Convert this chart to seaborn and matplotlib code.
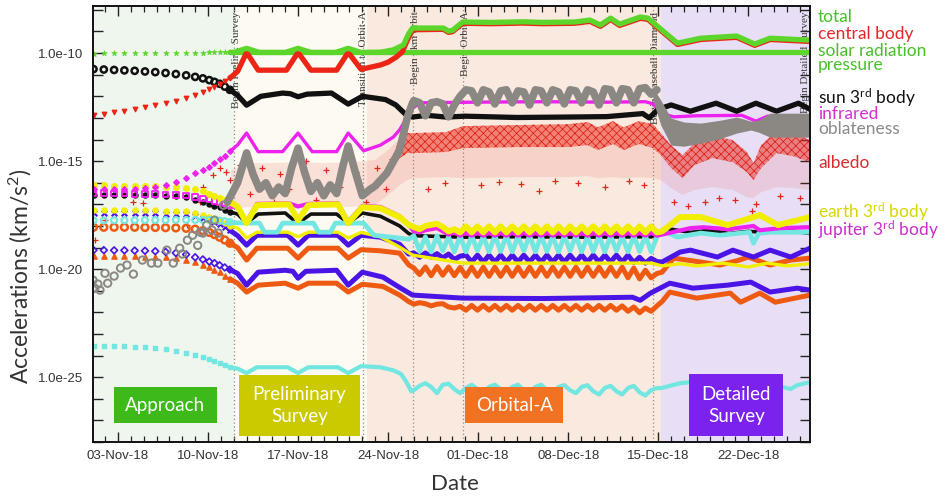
import numpy as np
import matplotlib
matplotlib.use("Agg")
import matplotlib.pyplot as plt
import seaborn as sns
from matplotlib.patches import Rectangle
from matplotlib.ticker import FixedLocator, FuncFormatter, NullLocator

# x = days since 01-Nov-2018 00:00, values = log10(acceleration [km/s^2])

TICK_DAYS = [2, 9, 16, 23, 30, 37, 44, 51]
TICK_LABELS = ["03-Nov-18", "10-Nov-18", "17-Nov-18", "24-Nov-18",
               "01-Dec-18", "08-Dec-18", "15-Dec-18", "22-Dec-18"]

# ---------------- approach phase (sparse markers) ----------------
APPROACH_DAYS = [0.1, 0.9, 1.7, 2.5, 3.3, 4.1, 4.9, 5.7, 6.5, 7.3, 8.0, 8.6, 9.1, 9.5, 9.9, 10.3, 10.7]
srp_app = [-10.02, -10.01, -10.00, -10.00, -9.99, -9.99, -9.99, -9.98, -9.98, -9.98, -9.98, -9.98, -9.97, -9.97, -9.97, -9.97, -9.97]
central_app = [-12.87, -12.80, -12.73, -12.66, -12.59, -12.51, -12.42, -12.31, -12.20, -12.06, -11.93, -11.80, -11.68, -11.57, -11.44, -11.30, -11.16]
sun_app = [-10.74, -10.76, -10.78, -10.80, -10.82, -10.85, -10.88, -10.92, -10.97, -11.03, -11.10, -11.17, -11.25, -11.33, -11.42, -11.55, -11.70]
ir_app = [-16.30, -16.30, -16.30, -16.29, -16.28, -16.25, -16.20, -16.10, -15.95, -15.79, -15.56, -15.40, -15.25, -15.10, -14.92, -14.75, -14.55]
e3_app = [-16.11, -16.12, -16.13, -16.14, -16.15, -16.16, -16.17, -16.18, -16.20, -16.24, -16.30, -16.40, -16.50, -16.60, -16.70, -16.80, -16.90]
j3_app = [-16.48, -16.48, -16.49, -16.50, -16.51, -16.52, -16.53, -16.55, -16.57, -16.60, -16.65, -16.72, -16.78, -16.84, -16.90, -16.96, -17.02]
blk2_app = [-16.57, -16.57, -16.57, -16.57, -16.58, -16.58, -16.59, -16.60, -16.62, -16.67, -16.78, -16.88, -16.98, -17.06, -17.14, -17.25, -17.35]
ty_app = [-17.27, -17.27, -17.27, -17.27, -17.27, -17.28, -17.28, -17.29, -17.30, -17.33, -17.40, -17.48, -17.57, -17.66, -17.76, -17.87, -17.98]
bu_app = [-17.41, -17.41, -17.41, -17.41, -17.41, -17.42, -17.42, -17.43, -17.44, -17.47, -17.55, -17.62, -17.70, -17.80, -17.92, -18.05, -18.20]
cy_app = [-17.75, -17.75, -17.74, -17.74, -17.74, -17.73, -17.73, -17.73, -17.72, -17.72, -17.72, -17.72, -17.72, -17.73, -17.75, -17.78, -17.82]
ou_app = [-18.06, -18.06, -18.06, -18.06, -18.06, -18.07, -18.07, -18.08, -18.09, -18.11, -18.15, -18.22, -18.30, -18.40, -18.52, -18.65, -18.80]
bl_app = [-19.12, -19.12, -19.13, -19.13, -19.14, -19.15, -19.17, -19.20, -19.25, -19.32, -19.45, -19.55, -19.65, -19.72, -19.82, -19.92, -20.02]
ol_app = [-19.40, -19.40, -19.40, -19.41, -19.41, -19.42, -19.43, -19.45, -19.50, -19.58, -19.68, -19.80, -19.92, -20.03, -20.15, -20.30, -20.45]
cl_app = [-23.56, -23.56, -23.56, -23.57, -23.58, -23.60, -23.63, -23.70, -23.78, -23.86, -23.96, -24.06, -24.16, -24.24, -24.33, -24.43, -24.55]

obl_sc_d = [0.06, 0.2, 0.44, 0.6, 0.99, 1.2, 1.7, 2.2, 2.7, 3.2, 3.9, 4.6, 5.1, 5.8, 6.3, 6.8, 7.0, 7.4, 7.8, 8.2, 8.4, 8.6, 8.9, 9.3, 9.5, 9.8, 10.2]
obl_sc_v = [-20.51, -20.88, -20.69, -20.97, -20.19, -20.65, -20.32, -19.95, -19.81, -20.23, -19.58, -19.72, -19.72, -19.12, -19.72, -19.03, -19.30, -18.66, -18.43, -18.90, -18.29, -18.33, -17.96, -18.19, -17.73, -18.33, -17.04]

# ---------------- dense phases: keypoints ----------------
srp_d = [10.7, 30.0, 55.8]
srp_v = [-9.97, -9.97, -9.97]

total_d = [10.7, 11.0, 12.0, 13.0, 15.0, 16.0, 17.0, 18.9, 19.9, 20.9, 22.4, 23.4, 24.2, 24.6, 24.9, 27.3, 27.7, 28.0, 28.8, 31.0, 33.5, 35.0, 37.5, 38.7, 39.5, 40.3, 41.0, 42.6, 43.2, 44.3, 45.5, 47.3, 50.1, 51.5, 52.7, 55.8]
total_v = [-9.97, -9.97, -9.78, -9.97, -9.97, -9.78, -9.97, -9.97, -9.78, -9.97, -9.96, -9.85, -9.62, -9.10, -8.84, -8.84, -8.98, -8.95, -8.56, -8.58, -8.55, -8.58, -8.56, -8.47, -8.70, -8.38, -8.66, -8.33, -8.38, -8.94, -9.54, -9.31, -9.21, -9.58, -9.31, -9.40]

central_d = [10.7, 11.3, 12.0, 12.9, 15.1, 16.0, 17.0, 19.0, 19.9, 20.9, 22.4, 23.0, 23.6, 24.1, 24.5, 24.9, 27.3, 27.7, 28.0, 28.8, 31.0, 33.5, 35.0, 37.5, 38.7, 39.5, 40.3, 41.0, 42.6, 43.2, 44.3, 45.5, 47.3, 50.1, 51.5, 52.7, 55.8]
central_v = [-11.16, -10.85, -9.97, -10.79, -10.79, -9.97, -10.79, -10.79, -9.97, -10.75, -10.55, -10.42, -10.20, -9.95, -9.40, -8.92, -8.90, -9.04, -9.01, -8.62, -8.64, -8.61, -8.64, -8.62, -8.53, -8.76, -8.44, -8.72, -8.39, -8.44, -9.00, -9.60, -9.37, -9.27, -9.64, -9.37, -9.46]

sun_d = [10.7, 11.3, 12.0, 13.1, 14.8, 15.4, 16.0, 16.7, 18.6, 19.9, 21.0, 22.8, 23.6, 24.3, 24.9, 26.0, 27.5, 29.0, 33.0, 37.0, 40.0, 42.8, 43.3, 44.0, 45.0, 46.5, 48.5, 50.1, 51.6, 53.2, 54.9, 55.8]
sun_v = [-11.70, -11.95, -12.41, -12.00, -11.85, -11.88, -12.02, -11.90, -11.85, -12.36, -12.00, -12.15, -12.40, -12.80, -12.96, -12.88, -12.96, -12.92, -12.98, -12.96, -12.94, -12.80, -13.00, -12.60, -12.40, -12.69, -12.32, -12.69, -12.32, -12.69, -12.32, -12.60]

ir_d = [10.7, 11.3, 12.0, 12.9, 14.8, 16.0, 17.1, 19.0, 19.9, 21.1, 22.4, 23.4, 23.9, 24.4, 24.9, 25.5, 30.0, 35.0, 40.0, 43.0, 43.6, 44.3, 45.2, 47.0, 50.5, 51.6, 52.5, 55.8]
ir_v = [-14.55, -14.25, -13.70, -14.56, -14.56, -13.70, -14.56, -14.56, -13.70, -14.52, -14.26, -13.89, -13.55, -13.05, -12.55, -12.30, -12.27, -12.25, -12.27, -12.25, -12.35, -12.80, -12.95, -12.90, -12.88, -13.15, -12.92, -12.90]

blk2_d = [10.7, 11.3, 12.0, 12.9, 15.0, 15.6, 16.3, 17.0, 19.0, 19.9, 21.0, 22.4, 23.9, 24.6, 25.0, 28.8, 33.0, 38.0, 43.5, 44.0, 45.0, 46.5, 48.0, 49.5, 51.0, 52.5, 54.0, 55.8]
blk2_v = [-17.35, -17.45, -17.87, -17.45, -17.40, -17.70, -17.75, -17.45, -17.45, -17.87, -17.40, -17.55, -18.00, -18.35, -18.45, -18.52, -18.50, -18.52, -18.50, -18.35, -18.15, -18.30, -18.20, -18.35, -18.25, -18.30, -18.20, -18.35]

ty_d = [10.7, 11.3, 12.0, 12.8, 15.2, 16.0, 16.8, 19.1, 19.9, 20.9, 22.4, 23.9, 24.9, 28.8, 35.0, 43.5, 44.3, 45.7, 47.0, 49.0, 51.0, 52.5, 54.0, 55.8]
ty_v = [-17.98, -18.10, -18.56, -18.29, -18.29, -18.50, -18.29, -18.29, -18.56, -18.30, -18.50, -18.98, -19.35, -19.72, -19.72, -19.72, -19.85, -19.75, -19.85, -19.72, -19.90, -19.72, -19.85, -19.75]

bl_d = [10.7, 11.3, 12.0, 12.9, 15.0, 15.6, 16.0, 16.6, 19.0, 19.9, 21.0, 22.6, 23.9, 24.9, 28.8, 35.0, 42.0, 42.6, 43.4, 44.9, 46.7, 49.4, 51.2, 52.7, 54.8, 55.8]
bl_v = [-20.02, -20.20, -20.74, -20.14, -20.05, -20.10, -20.42, -20.10, -20.05, -20.74, -20.14, -20.37, -20.85, -21.20, -21.34, -21.36, -21.30, -21.44, -21.11, -20.65, -20.88, -20.74, -20.60, -21.06, -20.88, -20.97]

# series with ~daily oscillation during Orbital-A: keypoints before, 0.45-day samples, keypoints after
OSC_START, OSC_STEP = 25.0, 0.45

e3_d = [10.7, 11.3, 12.0, 12.8, 15.3, 16.0, 16.8, 19.1, 19.9, 21.0, 22.4, 23.9, 24.6]
e3_v = [-16.90, -17.10, -17.87, -17.04, -17.00, -17.73, -17.04, -17.00, -17.87, -17.13, -17.18, -17.59, -17.95]
e3_osc = [-18.05, -18.15, -18.00, -17.95, -17.90, -18.05, -18.25, -18.15, -18.30, -18.02,
          -18.30, -18.02, -18.30, -18.02, -18.30, -18.02, -18.30, -18.02, -18.30, -18.02,
          -18.30, -18.02, -18.30, -18.02, -18.30, -18.02, -18.30, -18.02, -18.30, -18.02,
          -18.30, -18.02, -18.30, -18.02, -18.30, -18.02, -18.30, -18.02, -18.30, -18.02,
          -18.30, -18.02, -18.30]
e3_post_d = [44.3, 45.7, 47.3, 49.4, 51.9, 53.3, 55.8]
e3_post_v = [-18.25, -17.59, -17.59, -17.96, -17.50, -17.96, -17.59]

j3_d = [10.7, 11.3, 12.0, 12.8, 15.3, 16.0, 16.8, 19.1, 19.9, 21.0, 22.4, 23.9, 24.6]
j3_v = [-17.02, -17.15, -17.80, -16.98, -16.95, -17.10, -16.98, -16.95, -17.80, -17.07, -17.12, -17.55, -17.95]
j3_osc = [-18.25, -18.30, -18.20, -18.15, -18.10, -18.25, -18.40, -18.30, -18.45, -18.32,
          -18.45, -18.32, -18.45, -18.32, -18.45, -18.32, -18.45, -18.32, -18.45, -18.32,
          -18.45, -18.32, -18.45, -18.32, -18.45, -18.32, -18.45, -18.32, -18.45, -18.32,
          -18.45, -18.32, -18.45, -18.32, -18.45, -18.32, -18.45, -18.32, -18.45, -18.32,
          -18.45, -18.32, -18.45]
j3_post_d = [44.3, 46.5, 47.5, 49.5, 51.4, 51.9, 53.5, 55.8]
j3_post_v = [-18.40, -18.10, -18.06, -18.15, -18.00, -18.20, -18.10, -18.06]

cy_d = [10.7, 13.0, 13.4, 14.4, 14.8, 17.2, 17.6, 18.5, 18.9, 21.1, 21.9, 23.9, 24.6]
cy_v = [-17.85, -17.87, -18.29, -18.29, -17.87, -17.87, -18.29, -18.29, -17.87, -17.87, -18.43, -18.56, -18.62]
cy_osc = [-18.45, -19.15, -18.50, -19.20, -18.45, -19.15, -18.50, -19.20, -18.45, -19.20,
          -18.45, -19.15, -18.48, -19.20, -18.45, -19.18, -18.45, -19.20, -18.48, -19.15,
          -18.45, -19.20, -18.45, -19.18, -18.48, -19.20, -18.45, -19.15, -18.45, -19.20,
          -18.48, -19.18, -18.45, -19.20, -18.45, -19.15, -18.48, -19.20, -18.45, -19.18,
          -18.45, -19.20, -18.50]
cy_post_d = [44.3, 45.5, 47.3, 48.8, 51.1, 51.4, 51.8, 52.7, 55.8]
cy_post_v = [-18.20, -18.52, -18.33, -18.43, -18.29, -18.80, -18.35, -18.29, -18.29]

bu_d = [10.7, 11.3, 12.0, 12.8, 15.2, 16.0, 16.8, 19.1, 19.9, 20.9, 22.4, 23.9, 24.6]
bu_v = [-18.20, -18.45, -18.89, -18.43, -18.43, -18.89, -18.43, -18.43, -18.89, -18.43, -18.52, -18.85, -19.30]
bu_osc = [-19.25, -19.45, -19.25, -19.45, -19.28, -19.48, -19.30, -19.55, -19.40, -19.35,
          -19.67, -19.35, -19.67, -19.35, -19.67, -19.35, -19.67, -19.35, -19.67, -19.35,
          -19.67, -19.35, -19.67, -19.35, -19.67, -19.35, -19.67, -19.35, -19.67, -19.35,
          -19.67, -19.35, -19.67, -19.35, -19.67, -19.35, -19.67, -19.35, -19.70, -19.45,
          -19.72, -19.50, -19.65]
bu_post_d = [44.3, 45.7, 46.5, 48.6, 49.8, 51.4, 52.7, 54.3, 55.8]
bu_post_v = [-19.67, -19.21, -19.12, -19.44, -19.12, -19.44, -19.12, -19.44, -19.03]

ou_d = [10.7, 11.3, 12.0, 12.8, 15.2, 16.0, 16.8, 19.1, 19.9, 20.9, 22.4, 23.9, 24.6]
ou_v = [-18.80, -19.00, -19.58, -19.03, -19.03, -19.49, -19.03, -19.03, -19.49, -19.10, -19.15, -19.26, -19.80]
ou_osc = [-19.95, -20.25, -19.90, -20.30, -19.88, -20.28, -19.90, -20.30, -19.92, -20.33,
          -19.91, -20.33, -19.91, -20.33, -19.91, -20.33, -19.91, -20.33, -19.91, -20.33,
          -19.91, -20.33, -19.91, -20.33, -19.91, -20.33, -19.91, -20.33, -19.91, -20.33,
          -19.91, -20.33, -19.91, -20.33, -19.91, -20.33, -19.91, -20.40, -19.95, -20.45,
          -20.05, -20.40, -20.20]
ou_post_d = [44.3, 45.2, 47.3, 48.8, 50.3, 51.0, 52.7, 54.3, 55.8]
ou_post_v = [-20.14, -19.49, -19.67, -19.81, -19.58, -19.44, -19.81, -19.58, -19.49]

ol_d = [10.7, 11.3, 12.0, 12.9, 15.0, 16.0, 16.8, 19.0, 19.9, 21.0, 22.6, 23.9, 24.6]
ol_v = [-20.45, -20.65, -21.06, -20.74, -20.65, -20.88, -20.65, -20.65, -21.06, -20.70, -20.80, -21.20, -21.50]
ol_osc = [-21.62, -21.55, -21.60, -21.70, -21.62, -21.60, -21.75, -21.80, -21.72, -21.90,
          -21.68, -21.90, -21.68, -21.90, -21.68, -21.90, -21.68, -21.90, -21.68, -21.90,
          -21.68, -21.90, -21.68, -21.90, -21.68, -21.90, -21.68, -21.90, -21.68, -21.90,
          -21.68, -21.90, -21.68, -21.90, -21.68, -21.90, -21.70, -21.95, -21.75, -22.02,
          -21.80, -21.95, -21.70]
ol_post_d = [44.3, 44.9, 47.0, 49.6, 50.4, 51.9, 53.1, 55.8]
ol_post_v = [-21.50, -21.06, -21.34, -21.11, -21.53, -21.11, -21.53, -21.20]

cl_d = [10.7, 11.3, 12.0, 12.8, 15.2, 16.0, 16.8, 19.1, 19.9, 20.9, 22.4, 23.4, 24.0, 24.4, 24.8]
cl_v = [-24.55, -24.60, -24.81, -24.54, -24.54, -24.81, -24.54, -24.54, -24.81, -24.49, -24.54, -24.68, -24.85, -25.20, -25.65]
cl_osc = [-25.60, -25.40, -25.28, -25.45, -25.74, -25.35, -25.30, -25.55, -25.74, -25.50,
          -25.35, -25.55, -25.74, -25.45, -25.35, -25.55, -25.74, -25.45, -25.35, -25.60,
          -25.74, -25.45, -25.35, -25.60, -25.74, -25.45, -25.37, -25.60, -25.74, -25.45,
          -25.37, -25.65, -25.80, -25.50, -25.40, -25.65, -25.80, -25.50, -25.40, -25.70,
          -25.85, -25.60, -25.50]
cl_post_d = [44.2, 45.7, 46.5, 48.0, 50.0, 52.0, 53.7, 54.3, 54.8, 55.8]
cl_post_v = [-25.51, -25.28, -25.23, -25.10, -25.05, -25.15, -25.46, -25.55, -25.37, -25.23]

obl_d = [10.5, 11.3, 12.0, 12.5, 13.0, 13.5, 14.0, 14.5, 15.0, 15.5, 16.0, 16.5, 17.0, 17.5, 18.0, 18.5, 19.0, 19.5, 19.9, 20.4, 21.0, 21.5, 22.0, 22.9, 23.9, 24.5, 24.9]
obl_v = [-16.90, -16.00, -14.62, -15.60, -16.30, -16.00, -16.60, -16.20, -16.50, -15.30, -14.40, -15.50, -16.40, -16.00, -16.60, -16.10, -16.50, -15.20, -14.30, -15.40, -16.60, -16.35, -16.15, -15.56, -14.49, -12.96, -12.31]
obl_osc = [-12.20, -12.30, -12.90, -12.30, -12.25, -12.35, -12.95, -12.40, -12.00,
           -11.70, -11.75, -12.30, -11.70, -11.80, -12.35, -11.75, -11.70, -12.30, -11.75,
           -11.80, -12.40, -11.70, -11.75, -12.30, -11.70, -11.80, -12.35, -11.70, -11.75,
           -12.30, -11.70, -11.80, -12.40, -11.65, -11.70, -12.30, -11.65, -11.70, -12.30,
           -11.65, -11.60, -11.90, -11.70]
obl_band_d = [43.6, 44.2, 45.0, 46.0, 47.3, 48.9, 50.1, 51.2, 51.8, 52.7, 55.8]
obl_band_top = [-11.60, -12.18, -13.01, -13.19, -13.24, -13.10, -12.96, -13.15, -13.10, -12.78, -12.78]
obl_band_bot = [-12.20, -13.33, -14.26, -14.31, -14.17, -13.94, -13.70, -13.56, -13.66, -13.89, -13.89]

# albedo cloud: top edge, end of dense part, end of sparse part
alb_d = [10.8, 12.0, 14.0, 16.0, 18.0, 20.0, 22.0, 23.0, 23.9, 24.5, 24.9, 27.5, 28.8, 33.0, 37.0, 38.5, 39.3, 40.5, 41.3, 42.5, 43.6, 44.2, 45.0, 45.9, 46.8, 48.2, 49.8, 50.9, 51.4, 52.0, 53.2, 54.5, 55.8]
alb_top = [-15.42, -15.09, -15.09, -15.05, -15.09, -15.05, -14.95, -14.49, -13.94, -13.70, -13.70, -13.66, -13.38, -13.33, -13.29, -13.19, -13.43, -13.15, -13.43, -13.15, -13.29, -13.70, -14.26, -14.72, -14.17, -13.80, -14.03, -14.58, -15.09, -14.26, -13.57, -13.70, -14.03]
alb_mid = [-16.11, -16.02, -16.11, -16.02, -16.11, -16.02, -15.88, -15.32, -14.86, -14.63, -14.63, -14.58, -14.40, -14.35, -14.35, -14.26, -14.49, -14.21, -14.49, -14.21, -14.40, -14.72, -15.32, -15.79, -15.19, -14.86, -15.05, -15.51, -15.88, -15.32, -14.63, -14.77, -15.05]
alb_bot = [-17.27, -17.13, -17.13, -17.13, -17.13, -17.13, -17.04, -16.57, -16.11, -15.88, -15.79, -15.74, -15.79, -15.74, -15.74, -15.69, -15.79, -15.74, -15.79, -15.74, -15.79, -15.88, -16.25, -16.57, -16.34, -16.20, -16.34, -16.67, -16.71, -16.44, -16.20, -16.25, -16.34]
alb_pts_d = [0.2, 0.99, 3.17, 3.94, 7.37, 8.38, 8.61, 9.39, 9.93, 10.4, 10.7, 11.5, 12.3, 13.2, 14.1, 14.6, 15.3, 16.6, 17.4, 18.2, 19.3, 20.5, 21.3, 22.1, 22.8, 23.3, 26.1, 27.4, 30.2, 31.6, 33.3, 34.7, 36.0, 37.8, 39.9, 41.7, 42.9, 45.2, 46.3, 47.6, 48.7, 50.0, 51.3, 51.6, 53.5, 55.0]
alb_pts_v = [-18.66, -17.73, -16.90, -16.94, -17.96, -16.90, -16.20, -15.65, -15.32, -15.51, -15.88, -15.2, -16.5, -15.3, -16.9, -15.6, -16.3, -15.0, -16.8, -15.4, -16.2, -15.5, -16.9, -15.3, -16.3, -14.9, -16.3, -16.0, -16.1, -15.95, -16.05, -16.4, -15.9, -16.0, -16.2, -15.9, -16.1, -16.9, -17.1, -16.9, -16.7, -16.8, -17.3, -17.0, -16.6, -16.7]

# ---------------- annotations ----------------
EVENT_LINE_DAYS = [11.05, 21.06, 24.94, 28.83, 43.6]
EVENT_TEXT_DAYS = [11.2, 21.1, 25.1, 29.0, 43.8, 55.45]
EVENT_LABELS = ["Begin Prelim. Survey", "Transition to Orbit-A", "Begin 2km orbit",
                "Begin Orbit-A", "Begin Baseball Diamond", "Begin Detailed Survey"]
PHASE_SPANS = [(0.0, 11.05), (11.05, 21.37), (21.37, 44.23), (44.23, 56.5)]
PHASE_BG = ["#eef6ee", "#fcfaf1", "#f9e9df", "#e8dff6"]
PHASE_NAMES = ["Approach", "Preliminary\nSurvey", "Orbital-A", "Detailed\nSurvey"]
PHASE_BOX_COLORS = ["#3dba19", "#cbca00", "#f07222", "#7b22ef"]
PHASE_BOX_X = [(1.69, 9.70), (11.41, 20.82), (28.99, 36.61), (46.41, 53.72)]
PHASE_BOX_Y = [(-27.13, -25.46), (-27.73, -24.91), (-27.13, -25.46), (-27.73, -24.86)]

LEGEND_LABELS = ["total", "central body", "solar radiation", "pressure",
                 r"sun 3$^{\mathrm{rd}}$ body", "infrared", "oblateness", "albedo",
                 r"earth 3$^{\mathrm{rd}}$ body", r"jupiter 3$^{\mathrm{rd}}$ body"]
LEGEND_COLORS = ["#48bf2a", "#e5262a", "#48bf2a", "#48bf2a", "#111111", "#d42ed4",
                 "#8a8a8a", "#d92b2b", "#d6d600", "#cc2ecc"]
LEGEND_BASE_PX = [22, 39, 56, 70, 104, 119, 134, 168, 218, 236]

GREEN, RED, BLACK, MAGENTA = "#5cd62a", "#ec2516", "#111111", "#ee22ee"
GRAY, YELLOW, CYAN, BLUE, ORANGE = "#8b8783", "#f2ee00", "#72e6e0", "#4b14e6", "#ef5a12"

# ---------------- figure ----------------
sns.set_theme(style="white")
plt.rcParams["font.family"] = ["Lato", "DejaVu Sans"]
plt.rcParams["mathtext.fontset"] = "custom"
plt.rcParams["mathtext.rm"] = "Lato"
plt.rcParams["mathtext.it"] = "Lato:italic"
plt.rcParams["mathtext.bf"] = "Lato:bold"
plt.rcParams["hatch.linewidth"] = 0.5

W, H = 951, 497
fig = plt.figure(figsize=(W / 100, H / 100), dpi=100)
fig.patch.set_facecolor("white")
AL, AR, AT, AB = 93, 810, 6, 442
ax = fig.add_axes([AL / W, 1 - AB / H, (AR - AL) / W, (AB - AT) / H])
ax.set_yscale("log")
ax.set_xlim(0.06, 55.8)
ax.set_ylim(10 ** -28.0, 10 ** -7.82)


def E(v):
    return 10.0 ** np.asarray(v, dtype=float)


def line(d, v, color, lw, z, **kw):
    sns.lineplot(x=np.asarray(d, dtype=float), y=E(v), ax=ax, color=color, linewidth=lw,
                 sort=False, estimator=None, legend=False, zorder=z,
                 solid_joinstyle="round", solid_capstyle="round", **kw)


def osc_line(pre_d, pre_v, osc_v, post_d, post_v, color, lw, z):
    od = OSC_START + OSC_STEP * np.arange(len(osc_v))
    d = np.concatenate([np.asarray(pre_d, float), od, np.asarray(post_d, float)])
    v = np.concatenate([np.asarray(pre_v, float), np.asarray(osc_v, float), np.asarray(post_v, float)])
    line(d, v, color, lw, z)


def marks(d, v, marker, s, color, z, hollow=False, lw=1.0):
    kw = dict(marker=marker, s=s, zorder=z, legend=False, linewidth=lw, ax=ax, color=color,
              edgecolor=color)
    if hollow:
        kw["facecolor"] = "none"
    sns.scatterplot(x=np.asarray(d, dtype=float), y=E(v), **kw)


# phase backgrounds
for (a, b), c in zip(PHASE_SPANS, PHASE_BG):
    ax.axvspan(a, b, color=c, zorder=0, lw=0)

# event lines and labels
for d in EVENT_LINE_DAYS:
    ax.axvline(d, color="#8c8c8c", lw=0.9, ls=(0, (1, 2)), zorder=1)
for d, lab in zip(EVENT_TEXT_DAYS, EVENT_LABELS):
    ax.text(d, 0.987, lab, transform=ax.get_xaxis_transform(), rotation=90, ha="center",
            va="top", fontsize=8, family=["Liberation Serif"], color="#3a3a3a", zorder=1.5,
            clip_on=True)

# albedo cloud
ad = np.asarray(alb_d, float)
dense = ad >= 23.9
ax.fill_between(ad, E(alb_mid), E(alb_top), where=dense, interpolate=True,
                facecolor=(0.93, 0.18, 0.12, 0.55), edgecolor="#d8180e", hatch="xxxx",
                linewidth=0, zorder=2)
ax.fill_between(ad, E(alb_mid), E(alb_top), where=ad <= 23.9, interpolate=True,
                facecolor=(0.93, 0.2, 0.15, 0.12), edgecolor="none", linewidth=0, zorder=2)
ax.fill_between(ad, E(alb_bot), E(alb_mid), facecolor=(0.93, 0.2, 0.15, 0.12),
                edgecolor="none", linewidth=0, zorder=2)
marks(alb_pts_d, alb_pts_v, "+", 22, "#e3261c", 2.1, lw=0.9)

# lower bodies
marks(APPROACH_DAYS, cl_app, "s", 9, CYAN, 3.0)
osc_line(cl_d, cl_v, cl_osc, cl_post_d, cl_post_v, CYAN, 3.0, 3.0)
marks(APPROACH_DAYS, ol_app, "^", 14, ORANGE, 3.1)
osc_line(ol_d, ol_v, ol_osc, ol_post_d, ol_post_v, ORANGE, 3.6, 3.1)
marks(APPROACH_DAYS, bl_app, "D", 12, BLUE, 3.2, hollow=True, lw=1.2)
line(bl_d, bl_v, BLUE, 3.6, 3.2)
marks(APPROACH_DAYS, ou_app, "o", 24, ORANGE, 3.3, hollow=True, lw=1.8)
osc_line(ou_d, ou_v, ou_osc, ou_post_d, ou_post_v, ORANGE, 3.6, 3.3)
marks(APPROACH_DAYS, bu_app, "x", 16, BLUE, 3.4, lw=1.5)
osc_line(bu_d, bu_v, bu_osc, bu_post_d, bu_post_v, BLUE, 3.6, 3.4)
marks(APPROACH_DAYS, ty_app, "o", 13, YELLOW, 3.5)
line(ty_d, ty_v, YELLOW, 2.4, 3.5)
marks(APPROACH_DAYS, blk2_app, "o", 13, BLACK, 3.6)
line(blk2_d, blk2_v, BLACK, 2.6, 3.6)
marks(APPROACH_DAYS, cy_app, "o", 18, CYAN, 3.7, hollow=True, lw=1.5)
osc_line(cy_d, cy_v, cy_osc, cy_post_d, cy_post_v, CYAN, 3.4, 3.7)
marks(APPROACH_DAYS, j3_app, "s", 16, MAGENTA, 3.8, hollow=True, lw=1.3)
osc_line(j3_d, j3_v, j3_osc, j3_post_d, j3_post_v, MAGENTA, 3.0, 3.8)
marks(APPROACH_DAYS, e3_app, "o", 16, YELLOW, 3.9)
osc_line(e3_d, e3_v, e3_osc, e3_post_d, e3_post_v, YELLOW, 4.3, 3.9)

# upper perturbations
marks(APPROACH_DAYS, ir_app, "D", 8, MAGENTA, 4.0)
line(ir_d, ir_v, MAGENTA, 2.4, 4.0)
marks(APPROACH_DAYS, sun_app, "o", 20, BLACK, 4.1, hollow=True, lw=1.8)
line(sun_d, sun_v, BLACK, 3.8, 4.1)
marks(obl_sc_d, obl_sc_v, "o", 28, GRAY, 4.2, hollow=True, lw=1.4)
osc_line(obl_d, obl_v, obl_osc, [], [], GRAY, 5.5, 4.2)
ax.fill_between(np.asarray(obl_band_d, float), E(obl_band_bot), E(obl_band_top),
                color=GRAY, lw=0, zorder=4.2)

marks(APPROACH_DAYS, srp_app, "*", 16, GREEN, 5.0, lw=0.5)
line(srp_d, srp_v, GREEN, 3.8, 5.0)
marks(APPROACH_DAYS, central_app, "v", 10, RED, 5.1)
line(central_d, central_v, RED, 3.8, 5.1)
line(total_d, total_v, GREEN, 3.8, 5.2)

# phase boxes
for (x0, x1), (y0, y1), c, name in zip(PHASE_BOX_X, PHASE_BOX_Y, PHASE_BOX_COLORS, PHASE_NAMES):
    ax.add_patch(Rectangle((x0, 10 ** y0), x1 - x0, 10 ** y1 - 10 ** y0, facecolor=c,
                           edgecolor="none", zorder=10))
    ax.text((x0 + x1) / 2, 10 ** ((y0 + y1) / 2), name, ha="center", va="center",
            color="white", fontsize=13.5, linespacing=1.35, zorder=11)

# axes styling
ax.set_xlabel("")
ax.set_ylabel("")
ax.set_xticks(TICK_DAYS)
ax.set_xticklabels(TICK_LABELS)
ax.xaxis.set_minor_locator(FixedLocator(list(range(1, 56))))
ax.yaxis.set_major_locator(FixedLocator([10.0 ** k for k in range(-28, -7)]))
ax.yaxis.set_minor_locator(NullLocator())


def yfmt(v, pos):
    k = int(round(np.log10(v)))
    return f"1.0e{k}" if k % 5 == 0 else ""


ax.yaxis.set_major_formatter(FuncFormatter(yfmt))
ax.tick_params(axis="both", which="both", direction="in", top=True, right=True,
               bottom=True, left=True, color="#222222", labelcolor="#333333")
ax.tick_params(axis="both", which="major", length=7, width=1.0, labelsize=9.5)
ax.tick_params(axis="both", which="minor", length=4, width=0.9)
ax.tick_params(axis="x", which="major", pad=6)
ax.tick_params(axis="y", which="major", pad=7)
for lab in ax.get_xticklabels() + ax.get_yticklabels():
    lab.set_fontfamily(["Liberation Sans"])
for s in ax.spines.values():
    s.set_color("#111111")
    s.set_linewidth(1.4)
    s.set_zorder(20)
ax.grid(False)

fig.text(20 / W, 1 - 276 / H, r"Accelerations (km/s$^{\mathrm{2}}$)", rotation=90,
         ha="center", va="center", fontsize=16.5, color="#333333")
fig.text(455 / W, 1 - 484 / H, "Date", ha="center", va="center", fontsize=16,
         color="#333333")

for lab, c, ypx in zip(LEGEND_LABELS, LEGEND_COLORS, LEGEND_BASE_PX):
    fig.text(818 / W, 1 - ypx / H, lab, color=c, fontsize=12.5, ha="left", va="baseline")

fig.savefig("out.png", dpi=100)
